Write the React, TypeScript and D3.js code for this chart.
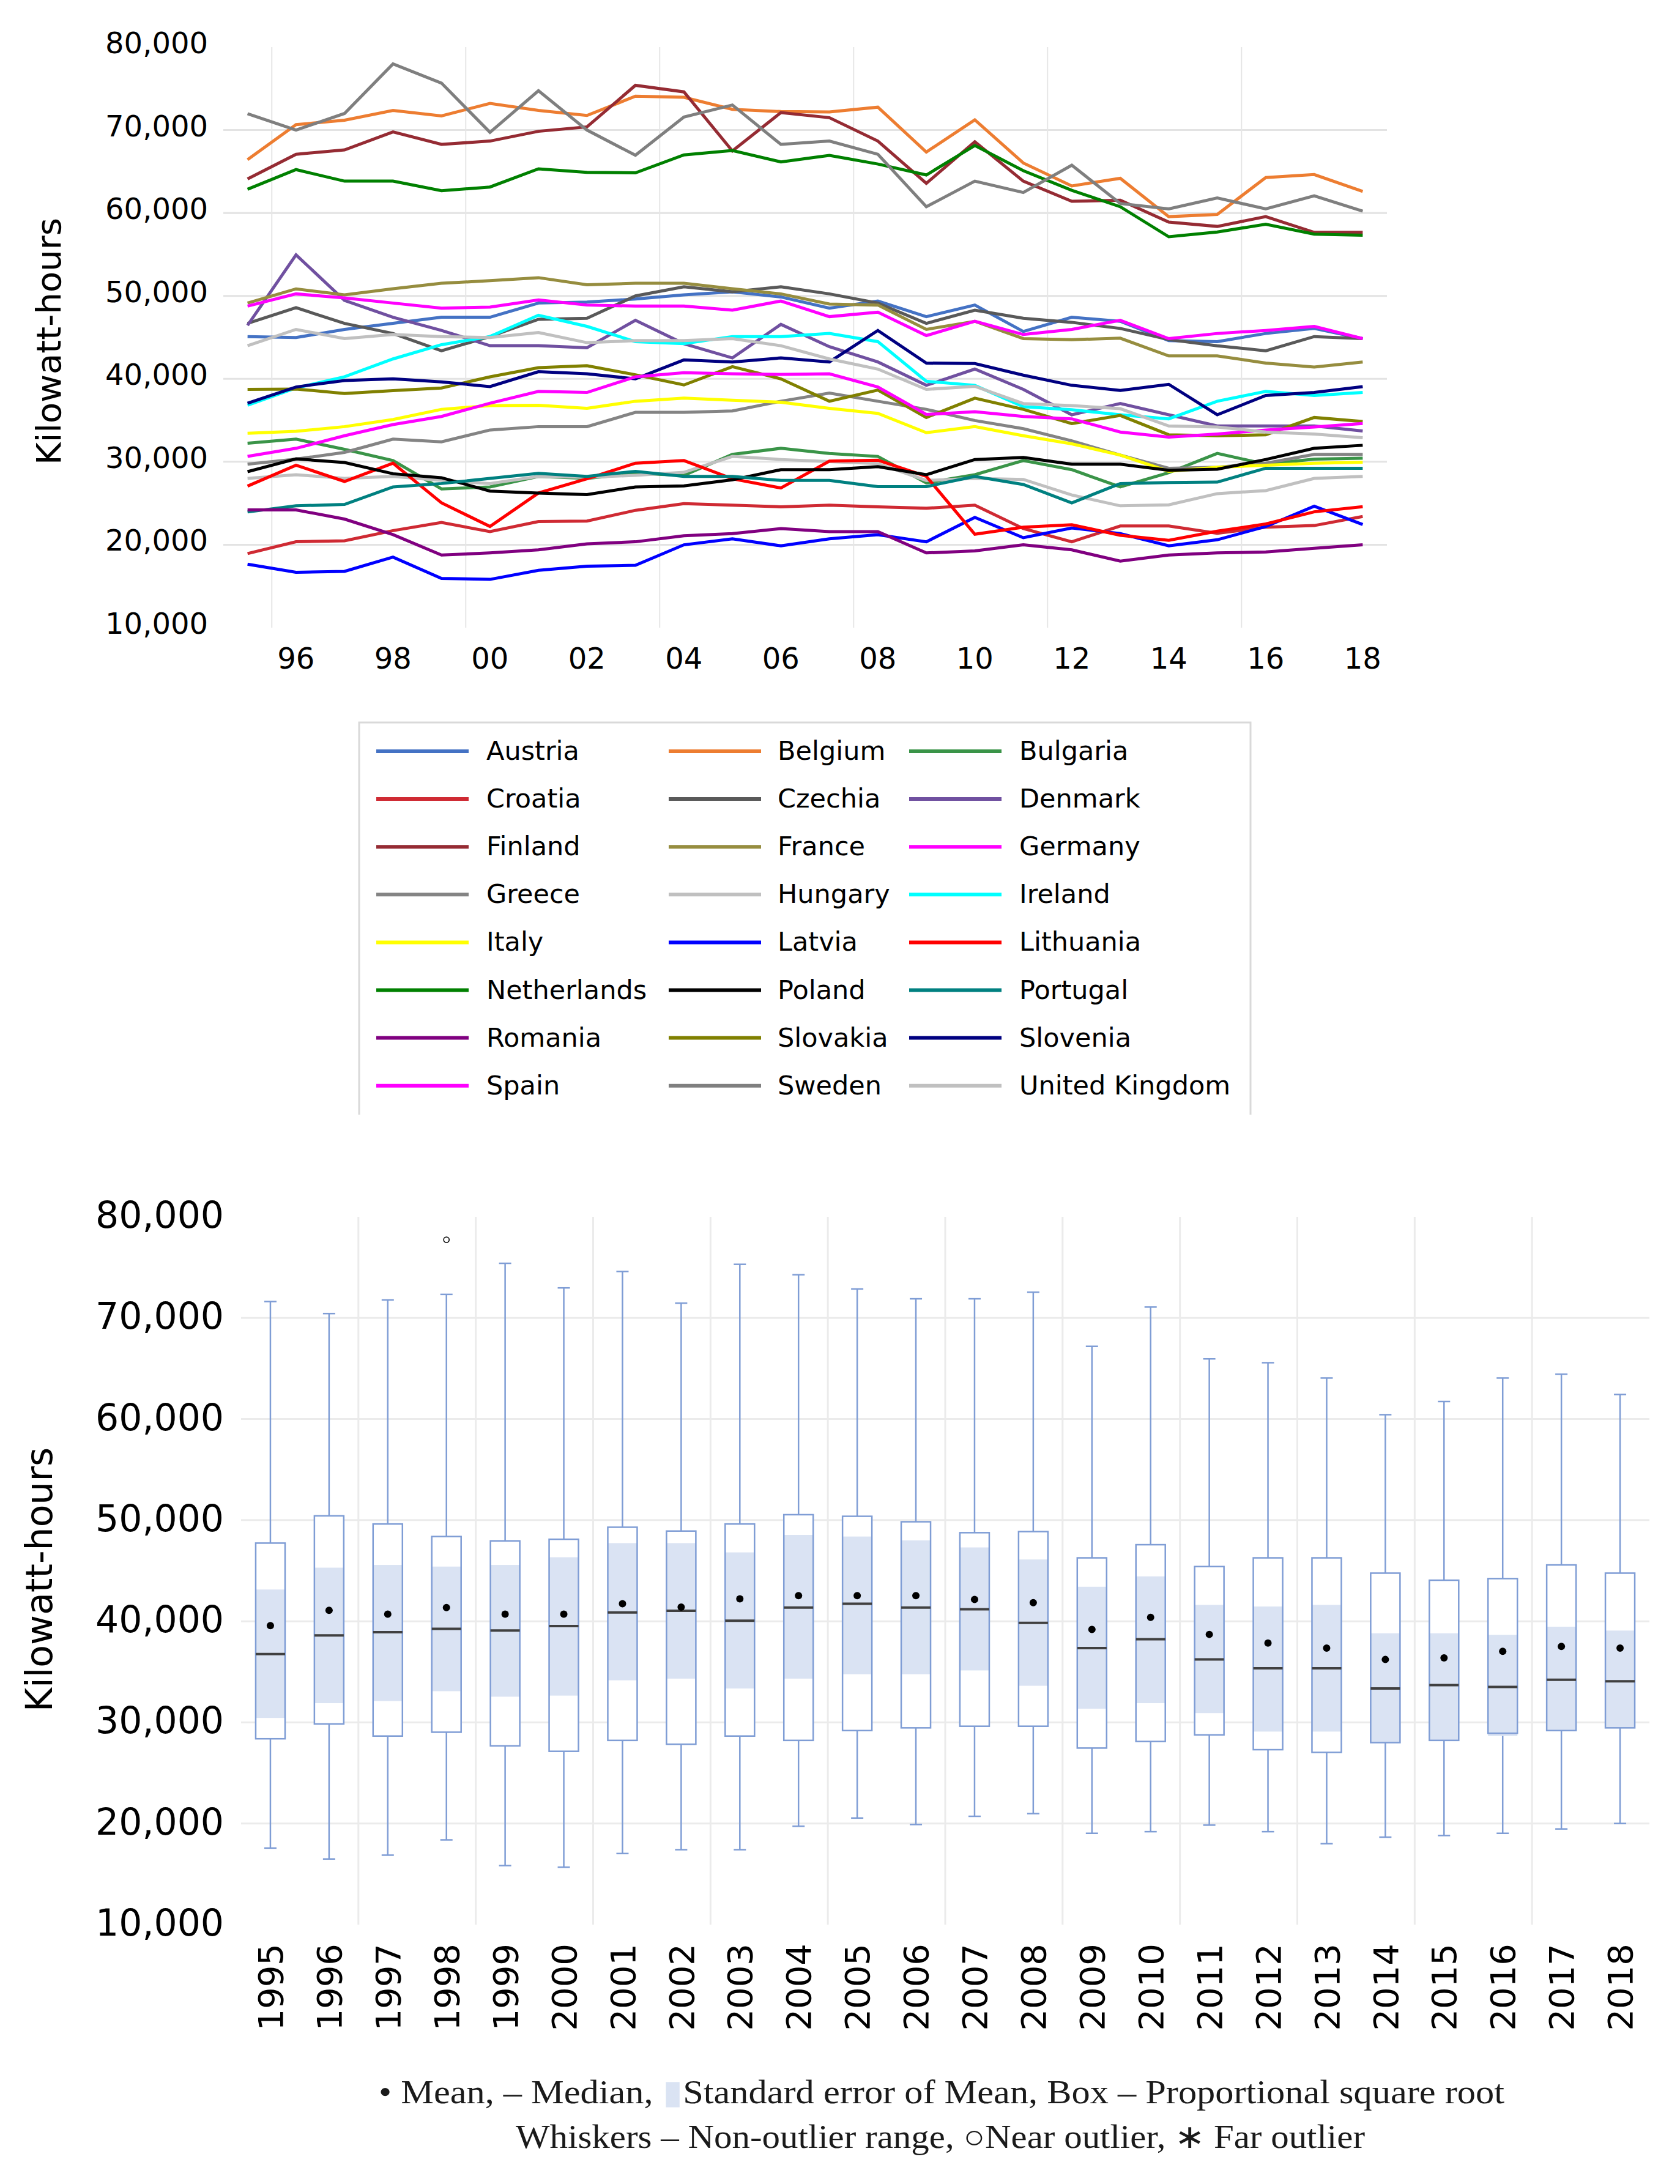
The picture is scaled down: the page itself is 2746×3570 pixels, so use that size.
import React from 'react';
import * as d3 from 'd3';

// years shared by both charts
const years = [1995, 1996, 1997, 1998, 1999, 2000, 2001, 2002, 2003, 2004, 2005, 2006,
  2007, 2008, 2009, 2010, 2011, 2012, 2013, 2014, 2015, 2016, 2017, 2018];

const countries = [
  'Austria', 'Belgium', 'Bulgaria',
  'Croatia', 'Czechia', 'Denmark',
  'Finland', 'France', 'Germany',
  'Greece', 'Hungary', 'Ireland',
  'Italy', 'Latvia', 'Lithuania',
  'Netherlands', 'Poland', 'Portugal',
  'Romania', 'Slovakia', 'Slovenia',
  'Spain', 'Sweden', 'United Kingdom',
];

// kWh per year
const austria = [45100, 44980, 45960, 46690, 47430, 47430, 49140, 49265, 49630, 50120, 50490, 49875, 48530, 49385, 47500, 48900, 45710, 47430, 46940, 44610, 44490, 45470, 46080, 44855];
const belgium = [66430, 70650, 71180, 72370, 71710, 73210, 72370, 71760, 74080, 73950, 72500, 72230, 72180, 72760, 67350, 71230, 66030, 63260, 64180, 59560, 59830, 64270, 64630, 62600];
const bulgaria = [32240, 32730, 31500, 30155, 26725, 26970, 28240, 28000, 28600, 28370, 30890, 31625, 31010, 30645, 27460, 28440, 30155, 29050, 26970, 28685, 31010, 29710, 30320, 30440];
const croatia = [18935, 20355, 20480, 21700, 22680, 21580, 22800, 22850, 24150, 24960, 24770, 24570, 24770, 24570, 24400, 24770, 21950, 20355, 22260, 22260, 21380, 22115, 22310, 23410];
const czechia = [46690, 48580, 46690, 45470, 43385, 45100, 47180, 47305, 50000, 51100, 50490, 51100, 50245, 49140, 46690, 48285, 47305, 46815, 46080, 44730, 43990, 43385, 45100, 44855];
const denmark = [46445, 54950, 49450, 47430, 45835, 44000, 44000, 43750, 47060, 44240, 42525, 46570, 43875, 42035, 39220, 41180, 38730, 35670, 37020, 35670, 34320, 34320, 34320, 33710];
const finland = [64100, 67080, 67610, 69770, 68270, 68670, 69850, 70380, 75390, 74600, 67480, 72100, 71490, 68670, 63570, 68590, 63840, 61410, 61540, 58900, 58380, 59560, 57660, 57660];
const france = [49140, 50850, 50120, 50860, 51520, 51840, 52200, 51350, 51520, 51520, 50860, 50245, 49020, 48900, 45960, 46940, 44855, 44730, 44900, 42770, 42770, 41900, 41420, 42035];
const germany = [48775, 50245, 49755, 49140, 48530, 48650, 49510, 48900, 48775, 48775, 48285, 49385, 47500, 48040, 45220, 46940, 45345, 45960, 47060, 44855, 45470, 45835, 46325, 44855];
const greece = [29710, 30320, 31135, 32730, 32410, 33830, 34240, 34240, 35960, 35960, 36130, 37300, 38290, 37300, 36325, 34975, 33990, 32520, 30815, 29220, 29340, 29830, 30890, 30890];
const hungary = [27995, 28440, 27995, 28240, 27750, 27380, 28240, 28120, 28370, 28730, 30645, 30275, 30030, 29790, 27750, 27995, 27870, 26000, 24690, 24810, 26160, 26530, 27995, 28240];
const ireland = [36815, 38900, 40245, 42400, 44120, 45100, 47670, 46325, 44490, 44240, 45100, 45100, 45470, 44490, 39710, 39220, 36650, 36280, 35670, 35180, 37300, 38485, 37995, 38360];
const italy = [33430, 33680, 34240, 35100, 36325, 36770, 36815, 36450, 37300, 37670, 37425, 37180, 36450, 35835, 33510, 34240, 33140, 32160, 30815, 28850, 29340, 29585, 29830, 29950];
const latvia = [17650, 16670, 16790, 18510, 15940, 15820, 16915, 17405, 17525, 19990, 20720, 19865, 20720, 21215, 20355, 23300, 20845, 22020, 21335, 19865, 20600, 22190, 24640, 22435];
const lithuania = [27065, 29590, 27630, 29830, 25050, 22200, 26235, 27950, 29830, 30150, 27950, 26840, 30080, 30200, 28240, 21260, 22115, 22410, 21140, 20525, 21630, 22500, 23970, 24580];
const netherlands = [62860, 65230, 63840, 63840, 62680, 63130, 65320, 64900, 64840, 67000, 67530, 66160, 66950, 65900, 64580, 68140, 65100, 62730, 60750, 57130, 57710, 58640, 57450, 57320];
const poland = [28810, 30350, 29910, 28560, 28080, 26475, 26235, 26040, 26970, 27090, 27825, 29050, 29050, 29420, 28440, 30275, 30520, 29710, 29710, 28975, 29100, 30275, 31625, 31990];
const portugal = [23950, 24690, 24860, 26970, 27380, 27995, 28610, 28240, 28850, 28240, 28240, 27750, 27750, 27010, 27010, 28240, 27260, 25050, 27380, 27500, 27550, 29220, 29220, 29220];
const romania = [24200, 24200, 23090, 21215, 18760, 19010, 19380, 20110, 20355, 21090, 21335, 21950, 21580, 21580, 19010, 19255, 19990, 19380, 18030, 18760, 19010, 19130, 19570, 19990];
const slovakia = [38730, 38775, 38240, 38580, 38900, 40245, 41350, 41590, 40490, 39265, 41470, 40000, 37300, 38650, 35345, 37670, 36325, 34610, 35590, 33260, 33140, 33260, 35345, 34855];
const slovenia = [37060, 39020, 39800, 40000, 39630, 39070, 40860, 40610, 40000, 42280, 42035, 42525, 42035, 45835, 41900, 41850, 40445, 39220, 38610, 39340, 35670, 37995, 38360, 39070];
const spain = [30650, 31625, 33140, 34485, 35470, 37060, 38485, 38360, 40245, 40735, 40610, 40540, 40610, 39020, 35710, 36035, 35470, 35180, 33585, 32970, 33340, 33830, 34200, 34610];
const sweden = [71970, 70000, 72000, 77980, 75660, 69720, 74740, 70000, 66960, 71570, 73020, 68270, 68670, 67080, 60750, 63840, 62470, 65760, 61140, 60490, 61810, 60490, 62070, 60230];
const unitedKingdom = [44000, 45960, 44855, 45345, 45100, 44980, 45590, 44365, 44610, 44610, 44855, 43995, 42400, 41180, 38730, 39100, 37020, 36770, 36400, 34320, 34200, 33585, 33340, 32900];

const seriesValues = [
  austria, belgium, bulgaria, croatia, czechia, denmark, finland, france,
  germany, greece, hungary, ireland, italy, latvia, lithuania, netherlands,
  poland, portugal, romania, slovakia, slovenia, spain, sweden, unitedKingdom,
];

const lineColors = [
  '#4472C4', '#ED7D31', '#3A9448',
  '#CF2A33', '#595959', '#7050A0',
  '#952B33', '#968D3F', '#FF00FF',
  '#848484', '#C0C0C0', '#00FFFF',
  '#FFFF00', '#0000FF', '#FF0000',
  '#008000', '#000000', '#008080',
  '#800080', '#808000', '#000080',
  '#FF00FF', '#7F7F7F', '#C0C0C0',
];

const valueTicks = [10000, 20000, 30000, 40000, 50000, 60000, 70000, 80000];
const gridTicks = [20000, 30000, 40000, 50000, 60000, 70000];

// box plot summary per year
const whiskerHigh = [71620, 70430, 71780, 72325, 75400, 72970, 74595, 71460, 75300, 74270, 72860, 71890, 71890, 72540, 67190, 71080, 65950, 65570, 64060, 60430, 61730, 64060, 64430, 62430];
const boxHigh = [47730, 50430, 49620, 48380, 47950, 48110, 49300, 48920, 49620, 50540, 50380, 49840, 48760, 48870, 46270, 47570, 45410, 46270, 46270, 44760, 44060, 44220, 45570, 44760];
const seHigh = [43140, 45300, 45570, 45410, 45570, 46330, 47730, 47730, 46810, 48540, 48380, 48000, 47300, 46110, 43410, 44440, 41620, 41460, 41620, 38810, 38810, 38650, 39460, 39080];
const means = [39570, 41080, 40700, 41350, 40700, 40700, 41730, 41400, 42220, 42540, 42540, 42540, 42160, 41840, 39190, 40380, 38700, 37840, 37350, 36220, 36380, 37030, 37520, 37350];
const medians = [36760, 38600, 38920, 39250, 39080, 39520, 40870, 41030, 40060, 41350, 41730, 41350, 41190, 39840, 37350, 38220, 36220, 35350, 35350, 33350, 33680, 33510, 34220, 34060];
const seLow = [30440, 31900, 32110, 33085, 32540, 32650, 34160, 34330, 33350, 34330, 34760, 34760, 35140, 33620, 31350, 31900, 30920, 29090, 29090, 28000, 28220, 28650, 29190, 29460];
const boxLow = [28380, 29840, 28650, 29030, 27680, 27140, 28220, 27840, 28650, 28220, 29190, 29460, 29620, 29620, 27460, 28110, 28760, 27300, 27030, 28000, 28220, 28920, 29190, 29460];
const whiskerLow = [17570, 16490, 16870, 18380, 15840, 15680, 17030, 17410, 17410, 19730, 20540, 19900, 20710, 20980, 19030, 19190, 19840, 19190, 18000, 18650, 18810, 19030, 19460, 20000];
const outlierYears = [1998];
const outlierValues = [77730];

const fmt = d3.format(',');

// top chart scales
const xTop = d3.scaleLinear().domain([1994.5, 2018.5]).range([365, 2267]);
const yTop = d3.scaleLinear().domain([10000, 80000]).range([1026, 77]);
const line = d3.line<number>()
  .x((_, i) => xTop(years[i]))
  .y(d => yTop(d));

// bottom chart scales
const xBox = d3.scaleBand<string>().domain(years.map(String)).range([394, 2696]).padding(0);
const yBox = d3.scaleLinear().domain([10000, 80000]).range([3146, 1989]);

const BOX_STROKE = '#7F9DD5';

const App: React.FC = () => {
  const topVGrid = years.filter((_, i) => i % 4 === 0).map(y => y + 0.5);
  const topXLabels = years.filter(y => y % 2 === 0);
  const step = xBox.step();
  const boxVGrid = d3.range(2, 24, 2).map(k => 394 + k * step);
  const boxW = 48;
  const capW = 20;

  return (
    <svg width={2746} height={3570} style={{ position: 'absolute', left: 0, top: 0, background: '#fff' }}
      fontFamily="DejaVu Sans">
      <rect x={0} y={0} width={2746} height={3570} fill="#fff" />

      {/* ---------- line chart ---------- */}
      <g>
        {gridTicks.map(t => (
          <line key={'hg' + t} x1={365} x2={2267} y1={yTop(t)} y2={yTop(t)} stroke="#e3e3e3" strokeWidth={3} />
        ))}
        {topVGrid.map(v => (
          <line key={'vg' + v} x1={xTop(v)} x2={xTop(v)} y1={yTop(80000)} y2={yTop(10000)} stroke="#e6e6e6" strokeWidth={2} />
        ))}
        {seriesValues.map((vals, i) => (
          <path key={countries[i]} d={line(vals) || ''} fill="none" stroke={lineColors[i]} strokeWidth={5} />
        ))}
        {valueTicks.map(t => (
          <text key={'yl' + t} x={340} y={yTop(t) + 10} textAnchor="end" fontSize={48} fill="#000">{fmt(t)}</text>
        ))}
        {topXLabels.map(y => (
          <text key={'xl' + y} x={xTop(y)} y={1093} textAnchor="middle" fontSize={48} fill="#000">{String(y).slice(2)}</text>
        ))}
        <text transform="translate(99,558) rotate(-90)" textAnchor="middle" fontSize={56} fill="#000">Kilowatt-hours</text>
      </g>

      {/* ---------- legend ---------- */}
      <g>
        <path d="M587,1822 V1181 H2044 V1822" fill="none" stroke="#d9d9d9" strokeWidth={3} />
        {countries.map((c, i) => {
          const col = i % 3;
          const row = Math.floor(i / 3);
          const lineX = [615, 1093, 1486][col];
          const textX = [795, 1271, 1666][col];
          const cy = 1228 + row * 78.1;
          return (
            <g key={'lg' + c}>
              <line x1={lineX} x2={lineX + 151} y1={cy} y2={cy} stroke={lineColors[i]} strokeWidth={6} />
              <text x={textX} y={cy + 14} fontSize={43} fill="#000">{c}</text>
            </g>
          );
        })}
      </g>

      {/* ---------- box plot ---------- */}
      <g>
        {gridTicks.map(t => (
          <line key={'bhg' + t} x1={394} x2={2696} y1={yBox(t)} y2={yBox(t)} stroke="#ebebeb" strokeWidth={3} />
        ))}
        {boxVGrid.map(x => (
          <line key={'bvg' + x} x1={x} x2={x} y1={yBox(80000)} y2={yBox(10000)} stroke="#ebebeb" strokeWidth={3} />
        ))}
        {years.map((y, i) => {
          const cx = (xBox(String(y)) || 0) + step / 2;
          return (
            <g key={'bx' + y}>
              <line x1={cx} x2={cx} y1={yBox(whiskerHigh[i])} y2={yBox(boxHigh[i])} stroke={BOX_STROKE} strokeWidth={2.5} />
              <line x1={cx} x2={cx} y1={yBox(boxLow[i])} y2={yBox(whiskerLow[i])} stroke={BOX_STROKE} strokeWidth={2.5} />
              <line x1={cx - capW / 2} x2={cx + capW / 2} y1={yBox(whiskerHigh[i])} y2={yBox(whiskerHigh[i])} stroke={BOX_STROKE} strokeWidth={2.5} />
              <line x1={cx - capW / 2} x2={cx + capW / 2} y1={yBox(whiskerLow[i])} y2={yBox(whiskerLow[i])} stroke={BOX_STROKE} strokeWidth={2.5} />
              <rect x={cx - boxW / 2} y={yBox(boxHigh[i])} width={boxW} height={yBox(boxLow[i]) - yBox(boxHigh[i])} fill="#fff" />
              <rect x={cx - boxW / 2} y={yBox(seHigh[i])} width={boxW} height={yBox(seLow[i]) - yBox(seHigh[i])} fill="#DAE3F3" />
              <rect x={cx - boxW / 2} y={yBox(boxHigh[i])} width={boxW} height={yBox(boxLow[i]) - yBox(boxHigh[i])} fill="none" stroke={BOX_STROKE} strokeWidth={2.5} />
              <line x1={cx - boxW / 2} x2={cx + boxW / 2} y1={yBox(medians[i])} y2={yBox(medians[i])} stroke="#404040" strokeWidth={4} />
              <circle cx={cx} cy={yBox(means[i])} r={6} fill="#000" />
            </g>
          );
        })}
        {outlierYears.map((y, i) => (
          <circle key={'out' + y} cx={(xBox(String(y)) || 0) + step / 2} cy={yBox(outlierValues[i])} r={4.5} fill="#fff" stroke="#000" strokeWidth={1.6} />
        ))}
        {valueTicks.map(t => (
          <text key={'byl' + t} x={366} y={yBox(t) + 18} textAnchor="end" fontSize={60} fill="#000">{fmt(t)}</text>
        ))}
        {years.map(y => (
          <text key={'bxl' + y} transform={`translate(${(xBox(String(y)) || 0) + step / 2},3177) rotate(-90)`}
            textAnchor="end" dy="0.36em" fontSize={56} fill="#000">{y}</text>
        ))}
        <text transform="translate(85,2582) rotate(-90)" textAnchor="middle" fontSize={60} fill="#000">Kilowatt-hours</text>
      </g>

      {/* ---------- caption ---------- */}
      <g fontFamily="Liberation Serif" fontSize={54} fill="#1a1a1a">
        <text x={1539} y={3438} textAnchor="middle" textLength={1840} lengthAdjust="spacingAndGlyphs">
          • Mean, – Median, <tspan fill="#DAE3F3">▮</tspan>Standard error of Mean, Box – Proportional square root
        </text>
        <text x={1537} y={3511} textAnchor="middle" textLength={1388} lengthAdjust="spacingAndGlyphs">
          Whiskers – Non-outlier range, ○Near outlier, ∗ Far outlier
        </text>
      </g>
    </svg>
  );
};

export default App;
